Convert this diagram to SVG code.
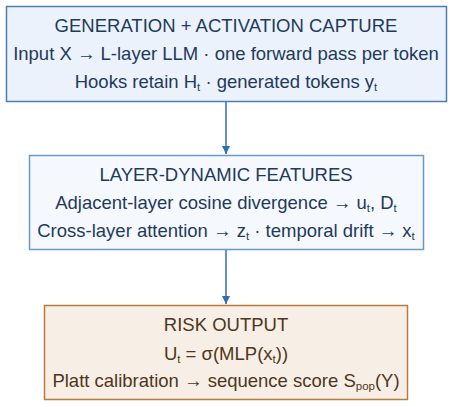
<svg xmlns="http://www.w3.org/2000/svg" width="453" height="407" viewBox="0 0 453 407">
<style>
text{font-family:"Liberation Sans",Arial,sans-serif;font-size:18.5px;text-anchor:middle}
.b{fill:#1f3a5c}
.o{fill:#4e3620}
.s{font-size:11.5px}
.edge{stroke:#3a78b5;stroke-width:1.6;fill:none}
</style>
<defs>
<marker id="ah" viewBox="0 0 10 10" refX="10" refY="5" markerWidth="5" markerHeight="5" orient="auto" markerUnits="strokeWidth">
<path d="M0,0 L10,5 L0,10 z" fill="#2f6eaa"/>
</marker>
</defs>
<rect width="453" height="407" fill="#ffffff"/>
<g id="connectors">
<line class="edge" x1="226" y1="102" x2="226" y2="154" marker-end="url(#ah)"/>
<line class="edge" x1="226" y1="250" x2="226" y2="304" marker-end="url(#ah)"/>
</g>
<g id="capture">
<rect x="6.5" y="6.5" width="440" height="95" fill="#ebf2fb" stroke="#4a7fb5" stroke-width="1.5"/>
<text class="b" x="226" y="32">GENERATION + ACTIVATION CAPTURE</text>
<text class="b" x="226" y="60">Input X → L-layer LLM · one forward pass per token</text>
<text class="b" x="226" y="88">Hooks retain H<tspan class="s" dy="3">t</tspan><tspan dy="-3"> · generated tokens y</tspan><tspan class="s" dy="3">t</tspan></text>
</g>
<g id="features">
<rect x="29.5" y="155.5" width="394" height="94" fill="#f5f9fd" stroke="#6a98c8" stroke-width="1.5"/>
<text class="b" x="226" y="181">LAYER-DYNAMIC FEATURES</text>
<text class="b" x="226" y="209">Adjacent-layer cosine divergence → u<tspan class="s" dy="3">t</tspan><tspan dy="-3">, D</tspan><tspan class="s" dy="3">t</tspan></text>
<text class="b" x="226" y="237">Cross-layer attention → z<tspan class="s" dy="3">t</tspan><tspan dy="-3"> · temporal drift → x</tspan><tspan class="s" dy="3">t</tspan></text>
</g>
<g id="risk">
<rect x="44.5" y="305.5" width="363" height="94" fill="#f7efe6" stroke="#b97a3f" stroke-width="1.5"/>
<text class="o" x="226" y="331">RISK OUTPUT</text>
<text class="o" x="226" y="360">U<tspan class="s" dy="3">t</tspan><tspan dy="-3"> = σ(MLP(x</tspan><tspan class="s" dy="3">t</tspan><tspan dy="-3">))</tspan></text>
<text class="o" x="226" y="387">Platt calibration → sequence score S<tspan class="s" dy="3">pop</tspan><tspan dy="-3">(Y)</tspan></text>
</g>
</svg>
